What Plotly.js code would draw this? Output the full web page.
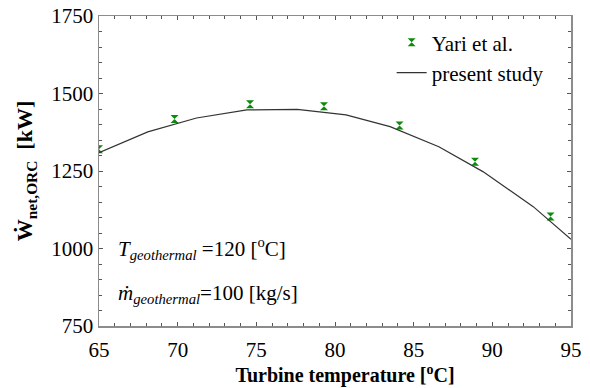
<!DOCTYPE html>
<html>
<head>
<meta charset="utf-8">
<script src="https://cdn.plot.ly/plotly-3.0.1.min.js"></script>
<style>html,body{margin:0;padding:0;background:#fff;}#chart{width:590px;height:388px;}</style>
</head>
<body>
<div id="chart"></div>
<script>
// Yari et al. (markers)
var yariTemp = [65, 69.8, 74.6, 79.3, 84.1, 88.9, 93.7];
var yariPower = [1320, 1418, 1465, 1459, 1397, 1280, 1103];
// present study (line)
var studyTemp = [65, 68.1, 71.2, 74.4, 77.6, 80.7, 83.5, 86.6, 89.4, 92.6, 95];
var studyPower = [1309, 1376, 1421, 1447, 1449, 1431, 1393, 1328, 1248, 1135, 1030];

var font = 'Liberation Serif';

var traces = [
  {
    x: yariTemp, y: yariPower, type: 'scatter', mode: 'markers', name: 'Yari et al.',
    marker: {symbol: 'hourglass', size: 8, color: '#0b8a0b', line: {width: 0}},
    cliponaxis: true
  },
  {
    x: studyTemp, y: studyPower, type: 'scatter', mode: 'lines', name: 'present study',
    line: {color: '#333333', width: 1.2}
  }
];

var axisCommon = {
  showline: true, linecolor: '#8c8c8c', linewidth: 1.5, mirror: 'ticks',
  ticks: 'inside', ticklen: 4, tickcolor: '#555', tickwidth: 1,
  showgrid: false, zeroline: false,
  tickfont: {family: font, size: 21, color: '#000'}
};

var layout = {
  width: 590, height: 388,
  font: {family: font, size: 20, color: '#000'},
  margin: {l: 99, r: 19, t: 16, b: 62},
  paper_bgcolor: '#fff', plot_bgcolor: '#fff',
  showlegend: true,
  legend: {x: 0.62, y: 0.98, xanchor: 'left', yanchor: 'top', bgcolor: 'rgba(0,0,0,0)',
           font: {family: font, size: 21, color: '#000'}, tracegroupgap: 0},
  xaxis: Object.assign({}, axisCommon, {
    range: [65, 95], dtick: 5, tick0: 65, ticklabelstandoff: 4,
    minor: {dtick: 1, ticks: 'inside', ticklen: 3, tickcolor: '#555'},
    title: {text: '&nbsp;&nbsp;&nbsp;&nbsp;<b>Turbine temperature [<sup>o</sup>C]</b>', font: {family: font, size: 20, color: '#000'}, standoff: 2}
  }),
  yaxis: Object.assign({}, axisCommon, {
    range: [750, 1750], dtick: 250, tick0: 750,
    minor: {dtick: 50, ticks: 'inside', ticklen: 3, tickcolor: '#555'},
    title: {text: '<b>Ẇ<sub>net,ORC</sub>  [kW]</b>', font: {family: font, size: 22, color: '#000'}, standoff: 12}
  }),
  annotations: [
    {xref: 'paper', yref: 'y', x: 0.035, y: 1000, xanchor: 'left', yanchor: 'middle', showarrow: false,
     text: '<i>T<sub>geothermal</sub></i> =120 [<sup>o</sup>C]', font: {family: font, size: 21, color: '#000'}},
    {xref: 'paper', yref: 'y', x: 0.035, y: 852, xanchor: 'left', yanchor: 'middle', showarrow: false,
     text: '<i>ṁ<sub>geothermal</sub></i>=100 [kg/s]', font: {family: font, size: 21, color: '#000'}}
  ]
};

Plotly.newPlot('chart', traces, layout, {staticPlot: true, displayModeBar: false});
</script>
</body>
</html>
